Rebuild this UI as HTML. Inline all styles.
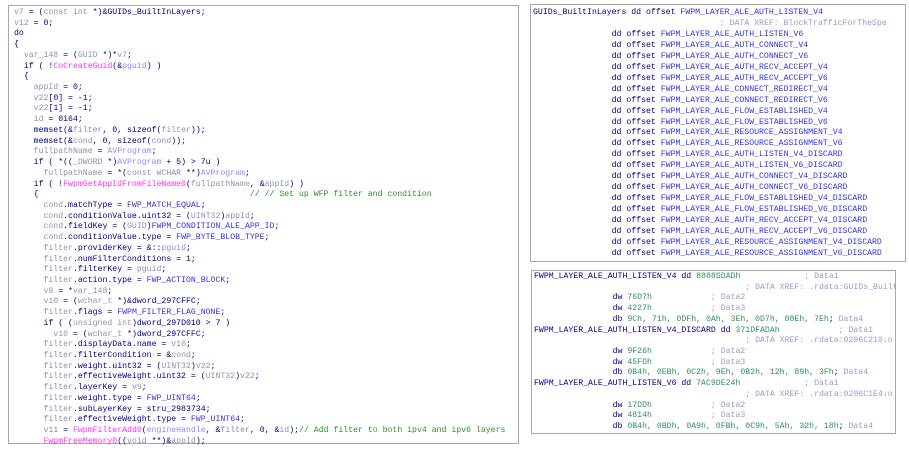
<!DOCTYPE html>
<html><head><meta charset="utf-8"><style>
body{margin:0;width:909px;height:453px;background:#fff;overflow:hidden;position:relative;font-family:"Liberation Mono",monospace;}
.box{position:absolute;border:1px solid #a8a8a8;background:#fff;}
pre{margin:0;font-family:"Liberation Mono",monospace;font-size:8.2px;color:#000080;white-space:pre;}
.g{color:#9090b0}.b{color:#3434d8}.m{color:#ff33ee}.c{color:#2f8f2f}.k{color:#8c8cf0}.d{color:#2f8f60}.x{color:#9a9ac8}
</style></head><body>
<div class="box" style="left:8px;top:5px;width:509px;height:437px;">
<pre style="position:absolute;left:5px;top:2px;line-height:10.72px;"><span class="g">v7</span> = (<span class="g">const int</span> *)&amp;GUIDs_BuiltInLayers;
<span class="g">v12</span> = 0;
do
{
  <span class="g">var_148</span> = (<span class="g">GUID</span> *)*<span class="g">v7</span>;
  if ( !<span class="m">CoCreateGuid</span>(&amp;<span class="k">pguid</span>) )
  {
    <span class="g">appId</span> = 0;
    <span class="g">v22</span>[0] = -1;
    <span class="g">v22</span>[1] = -1;
    <span class="g">id</span> = 0i64;
    memset(&amp;<span class="g">filter</span>, 0, sizeof(<span class="g">filter</span>));
    memset(&amp;<span class="g">cond</span>, 0, sizeof(<span class="g">cond</span>));
    <span class="g">fullpathName</span> = <span class="k">AVProgram</span>;
    if ( *((<span class="g">_DWORD</span> *)<span class="k">AVProgram</span> + 5) &gt; 7u )
      <span class="g">fullpathName</span> = *(<span class="g">const WCHAR</span> **)<span class="k">AVProgram</span>;
    if ( !<span class="m">FwpmGetAppIdFromFileName0</span>(<span class="g">fullpathName</span>, &amp;<span class="g">appId</span>) )
    {                                           <span class="c">// // Set up WFP filter and condition</span>
      <span class="g">cond</span>.matchType = <span class="b">FWP_MATCH_EQUAL</span>;
      <span class="g">cond</span>.conditionValue.uint32 = (<span class="g">UINT32</span>)<span class="g">appId</span>;
      <span class="g">cond</span>.fieldKey = (<span class="g">GUID</span>)<span class="b">FWPM_CONDITION_ALE_APP_ID</span>;
      <span class="g">cond</span>.conditionValue.type = <span class="b">FWP_BYTE_BLOB_TYPE</span>;
      <span class="g">filter</span>.providerKey = &amp;::<span class="k">pguid</span>;
      <span class="g">filter</span>.numFilterConditions = 1;
      <span class="g">filter</span>.filterKey = <span class="g">pguid</span>;
      <span class="g">filter</span>.action.type = <span class="b">FWP_ACTION_BLOCK</span>;
      <span class="g">v9</span> = *<span class="g">var_148</span>;
      <span class="g">v10</span> = (<span class="g">wchar_t</span> *)&amp;dword_297CFFC;
      <span class="g">filter</span>.flags = <span class="b">FWPM_FILTER_FLAG_NONE</span>;
      if ( (<span class="g">unsigned int</span>)dword_297D010 &gt; 7 )
        <span class="g">v10</span> = (<span class="g">wchar_t</span> *)dword_297CFFC;
      <span class="g">filter</span>.displayData.name = <span class="g">v10</span>;
      <span class="g">filter</span>.filterCondition = &amp;<span class="g">cond</span>;
      <span class="g">filter</span>.weight.uint32 = (<span class="g">UINT32</span>)<span class="g">v22</span>;
      <span class="g">filter</span>.effectiveWeight.uint32 = (<span class="g">UINT32</span>)<span class="g">v22</span>;
      <span class="g">filter</span>.layerKey = <span class="g">v9</span>;
      <span class="g">filter</span>.weight.type = <span class="b">FWP_UINT64</span>;
      <span class="g">filter</span>.subLayerKey = stru_2983734;
      <span class="g">filter</span>.effectiveWeight.type = <span class="b">FWP_UINT64</span>;
      <span class="g">v11</span> = <span class="m">FwpmFilterAdd0</span>(<span class="k">engineHandle</span>, &amp;<span class="g">filter</span>, 0, &amp;<span class="g">id</span>);<span class="c">// Add filter to both ipv4 and ipv6 layers</span>
      <span class="m">FwpmFreeMemory0</span>((<span class="g">void</span> **)&amp;<span class="g">appId</span>);</pre>
</div>
<div class="box" style="left:530px;top:4px;width:374px;height:256px;overflow:hidden;">
<pre style="position:absolute;left:2px;top:3px;line-height:10.95px;">GUIDs_BuiltInLayers dd offset <span class="b">FWPM_LAYER_ALE_AUTH_LISTEN_V4</span>
                                      <span class="x">; DATA XREF: BlockTrafficForTheSpe</span>
                dd offset <span class="b">FWPM_LAYER_ALE_AUTH_LISTEN_V6</span>
                dd offset <span class="b">FWPM_LAYER_ALE_AUTH_CONNECT_V4</span>
                dd offset <span class="b">FWPM_LAYER_ALE_AUTH_CONNECT_V6</span>
                dd offset <span class="b">FWPM_LAYER_ALE_AUTH_RECV_ACCEPT_V4</span>
                dd offset <span class="b">FWPM_LAYER_ALE_AUTH_RECV_ACCEPT_V6</span>
                dd offset <span class="b">FWPM_LAYER_ALE_CONNECT_REDIRECT_V4</span>
                dd offset <span class="b">FWPM_LAYER_ALE_CONNECT_REDIRECT_V6</span>
                dd offset <span class="b">FWPM_LAYER_ALE_FLOW_ESTABLISHED_V4</span>
                dd offset <span class="b">FWPM_LAYER_ALE_FLOW_ESTABLISHED_V6</span>
                dd offset <span class="b">FWPM_LAYER_ALE_RESOURCE_ASSIGNMENT_V4</span>
                dd offset <span class="b">FWPM_LAYER_ALE_RESOURCE_ASSIGNMENT_V6</span>
                dd offset <span class="b">FWPM_LAYER_ALE_AUTH_LISTEN_V4_DISCARD</span>
                dd offset <span class="b">FWPM_LAYER_ALE_AUTH_LISTEN_V6_DISCARD</span>
                dd offset <span class="b">FWPM_LAYER_ALE_AUTH_CONNECT_V4_DISCARD</span>
                dd offset <span class="b">FWPM_LAYER_ALE_AUTH_CONNECT_V6_DISCARD</span>
                dd offset <span class="b">FWPM_LAYER_ALE_FLOW_ESTABLISHED_V4_DISCARD</span>
                dd offset <span class="b">FWPM_LAYER_ALE_FLOW_ESTABLISHED_V6_DISCARD</span>
                dd offset <span class="b">FWPM_LAYER_ALE_AUTH_RECV_ACCEPT_V4_DISCARD</span>
                dd offset <span class="b">FWPM_LAYER_ALE_AUTH_RECV_ACCEPT_V6_DISCARD</span>
                dd offset <span class="b">FWPM_LAYER_ALE_RESOURCE_ASSIGNMENT_V4_DISCARD</span>
                dd offset <span class="b">FWPM_LAYER_ALE_RESOURCE_ASSIGNMENT_V6_DISCARD</span></pre>
</div>
<div class="box" style="left:531px;top:270px;width:363px;height:162px;overflow:hidden;">
<pre style="position:absolute;left:2px;top:1px;line-height:10.72px;">FWPM_LAYER_ALE_AUTH_LISTEN_V4 dd <span class="d">8888SDADh</span>             <span class="x">; Data1</span>
                                           <span class="x">; DATA XREF: .rdata:GUIDs_BuiltI</span>
                dw <span class="d">76D7h</span>            <span class="x">; Data2</span>
                dw <span class="d">4227h</span>            <span class="x">; Data3</span>
                db <span class="d">9Ch, 71h, 0DFh, 0Ah, 3Eh, 0D7h, 08Eh, 7Eh</span>; <span class="x">Data4</span>
FWPM_LAYER_ALE_AUTH_LISTEN_V4_DISCARD dd <span class="d">371DFADAh</span>            <span class="x">; Data1</span>
                                           <span class="x">; DATA XREF: .rdata:0296C210↓o</span>
                dw <span class="d">9F26h</span>            <span class="x">; Data2</span>
                dw <span class="d">45FDh</span>            <span class="x">; Data3</span>
                db <span class="d">0B4h, 0EBh, 0C2h, 9Eh, 0B2h, 12h, 89h, 3Fh</span>; <span class="x">Data4</span>
FWPM_LAYER_ALE_AUTH_LISTEN_V6 dd <span class="d">7AC9DE24h</span>             <span class="x">; Data1</span>
                                           <span class="x">; DATA XREF: .rdata:0296C1E4↓o</span>
                dw <span class="d">17DDh</span>            <span class="x">; Data2</span>
                dw <span class="d">4814h</span>            <span class="x">; Data3</span>
                db <span class="d">0B4h, 0BDh, 0A9h, 0FBh, 0C9h, 5Ah, 32h, 18h</span>; <span class="x">Data4</span></pre>
</div>
</body></html>
